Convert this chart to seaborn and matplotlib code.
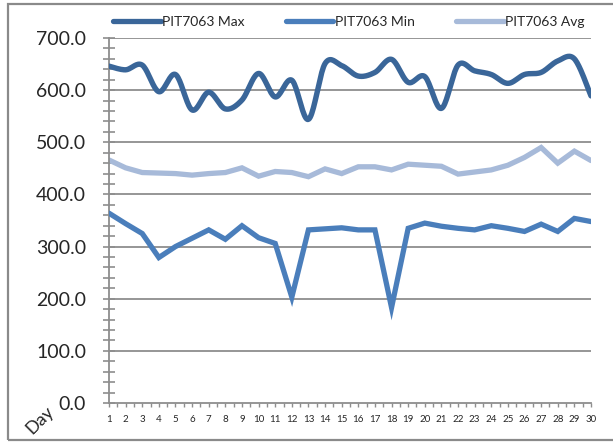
import numpy as np
import pandas as pd
import matplotlib
matplotlib.use("Agg")
import matplotlib.pyplot as plt
from matplotlib.lines import Line2D
from matplotlib.patches import Rectangle
from matplotlib.ticker import MultipleLocator
import seaborn as sns

days = list(range(1, 31))
pit_max = [646, 639, 648, 597, 630, 562, 596, 564, 581, 632,
           587, 619, 544, 651, 647, 627, 634, 659, 615, 626,
           565, 648, 637, 630, 613, 630, 634, 656, 660, 589]
pit_min = [364, 344, 325, 279, 300, 316, 332, 314, 340, 317,
           306, 203, 332, 334, 336, 332, 332, 183, 335, 345,
           339, 335, 332, 340, 335, 329, 343, 329, 354, 348]
pit_avg = [466, 451, 442, 441, 440, 437, 440, 442, 451, 435,
           444, 442, 434, 449, 440, 453, 453, 447, 458, 456,
           454, 439, 443, 447, 456, 471, 490, 460, 483, 465]
series_names = ["PIT7063 Max", "PIT7063 Min", "PIT7063 Avg"]
y_ticks = [0, 100, 200, 300, 400, 500, 600, 700]

c_max = "#3A6699"
c_min = "#4A7EBB"
c_avg = "#A7BAD9"
grid_c = "#8E8E8E"


def smooth(xs, ys, n=20):
    """Catmull-Rom style Bezier smoothing through every point."""
    xs = np.asarray(xs, float)
    ys = np.asarray(ys, float)
    px = np.concatenate([[xs[0]], xs, [xs[-1]]])
    py = np.concatenate([[ys[0]], ys, [ys[-1]]])
    out_x, out_y = [], []
    t = np.linspace(0, 1, n, endpoint=False)
    for i in range(1, len(px) - 2):
        p0 = np.array([px[i], py[i]])
        p3 = np.array([px[i + 1], py[i + 1]])
        c1 = p0 + (np.array([px[i + 1], py[i + 1]]) - np.array([px[i - 1], py[i - 1]])) / 6
        c2 = p3 - (np.array([px[i + 2], py[i + 2]]) - np.array([px[i], py[i]])) / 6
        b = ((1 - t) ** 3)[:, None] * p0 + (3 * (1 - t) ** 2 * t)[:, None] * c1 \
            + (3 * (1 - t) * t ** 2)[:, None] * c2 + (t ** 3)[:, None] * p3
        out_x.extend(b[:, 0])
        out_y.extend(b[:, 1])
    out_x.append(xs[-1])
    out_y.append(ys[-1])
    return np.array(out_x), np.array(out_y)


sns.set_style("white")
plt.rcParams["font.family"] = ["Lato", "DejaVu Sans"]

fig = plt.figure(figsize=(6.13, 4.42), dpi=100)
ax = fig.add_axes([109 / 613, 39 / 442, (591 - 109) / 613, (403 - 38) / 442])

df = pd.DataFrame({"day": days, "min": pit_min, "avg": pit_avg})
sx, sy = smooth(days, pit_max)
sns.lineplot(x=sx, y=sy, sort=False, ax=ax, color=c_max, lw=3.9,
             solid_capstyle="round", zorder=4)
sns.lineplot(data=df, x="day", y="min", ax=ax, color=c_min, lw=3.8,
             solid_joinstyle="miter", zorder=3)
sns.lineplot(data=df, x="day", y="avg", ax=ax, color=c_avg, lw=3.8,
             solid_joinstyle="miter", zorder=2)

ax.set_xlim(1, 30)
ax.set_ylim(0, 700)
ax.set_xlabel("")
ax.set_ylabel("")
ax.set_yticks(y_ticks)
ax.set_yticklabels([f"{v:.1f}" for v in y_ticks], fontsize=14)
ax.yaxis.set_minor_locator(MultipleLocator(20))
ax.set_xticks(days)
ax.set_xticklabels([str(d) for d in days], fontsize=7)
ax.xaxis.set_minor_locator(MultipleLocator(0.5))

for y in y_ticks[1:]:
    ax.axhline(y, color=grid_c, lw=1.3, zorder=1)

for side in ["top", "right"]:
    ax.spines[side].set_visible(False)
for side in ["left", "bottom"]:
    ax.spines[side].set_color(grid_c)
    ax.spines[side].set_linewidth(1.3)

ax.tick_params(axis="y", which="both", direction="inout", length=9,
               width=1.2, color=grid_c, pad=12, left=True)
ax.tick_params(axis="x", which="both", direction="out", length=3,
               width=1.0, color=grid_c, pad=6, bottom=True)

handles = [Line2D([], [], color=c, lw=3.8, solid_capstyle="round")
           for c in (c_max, c_min, c_avg)]
fig.legend(handles, series_names, loc="center", ncol=3,
           bbox_to_anchor=(349 / 613, 1 - 22 / 442), frameon=False,
           fontsize=10, handlelength=3.4, handletextpad=0.1,
           columnspacing=3.0)

fig.text(40 / 613, 1 - 420 / 442, "Day", rotation=45, fontsize=13,
         ha="center", va="center")

fig.add_artist(Rectangle((8 / 613, 2 / 442), 1.0, 436 / 442,
                         transform=fig.transFigure, fill=False,
                         edgecolor="#8A8A8A", lw=1.6, clip_on=False))

fig.savefig("out.png", dpi=100)
